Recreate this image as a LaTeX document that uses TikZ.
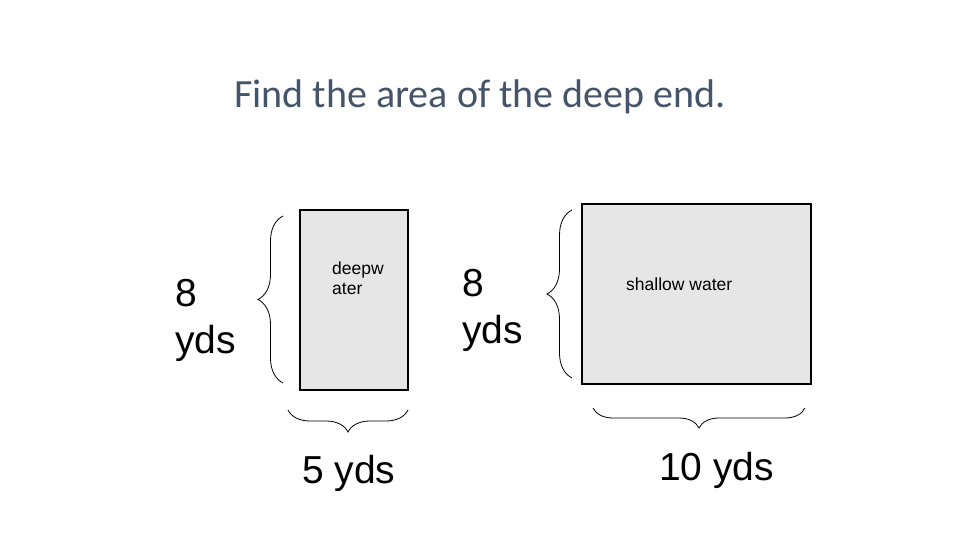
\documentclass[tikz,border=0pt]{standalone}
\usepackage{fontspec}
\setmainfont{Liberation Sans}
\newfontfamily\titlefont{Carlito}
\usepackage{xcolor}
\usepackage{tikz}
\usetikzlibrary{decorations.pathreplacing,positioning}
\definecolor{titlegray}{HTML}{44546A}
\definecolor{poolfill}{HTML}{E6E6E6}

\begin{document}
\begin{tikzpicture}[
  x=1pt, y=-1pt,
  pool/.style={draw=black, line width=1.2pt, fill=poolfill},
  bigtxt/.style={inner sep=0pt, anchor=base west, align=left, font=\fontsize{39}{47}\selectfont},
  smalltxt/.style={inner sep=0pt, anchor=base west, align=left, font=\fontsize{17.5}{20}\selectfont},
  bracket/.style={decorate, line width=0.8pt}
]
\useasboundingbox (0,0) rectangle (960,540);

\node[inner sep=0pt, anchor=base, text=titlegray, font=\titlefont\fontsize{40}{48}\selectfont] (title) at (480,108) {Find the area of the deep end.};

% deep end
\draw[pool] (300,210) rectangle (408,390);
\node[smalltxt] (deeplabel) at (332,294) {deepw\\ater};
\draw[bracket, decoration={brace, amplitude=25pt}] (283,383) -- (283,216);
\draw[bracket, decoration={brace, amplitude=22pt}] (408,410) -- (288,410);
\node[bigtxt] (deepside) at (175,353) {8\\yds};
\node[bigtxt] (deepbase) at (302,483) {5 yds};

% shallow end
\draw[pool] (582,204) rectangle (811,384);
\node[smalltxt] (shallowlabel) at (626,290) {shallow water};
\draw[bracket, decoration={brace, amplitude=25pt}] (572,378) -- (572,210);
\draw[bracket, decoration={brace, amplitude=20pt}] (805,408) -- (593,408);
\node[bigtxt] (shallowside) at (462,343) {8\\yds};
\node[bigtxt] (shallowbase) at (659,480) {10 yds};
\end{tikzpicture}
\end{document}
